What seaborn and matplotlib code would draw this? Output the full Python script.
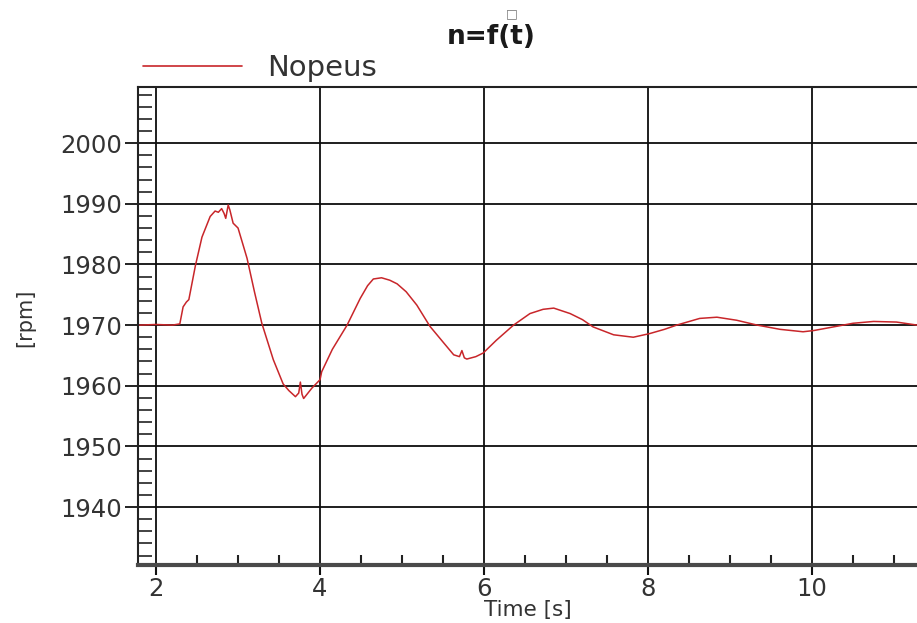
import matplotlib
matplotlib.use("Agg")
import matplotlib.pyplot as plt
from matplotlib.ticker import MultipleLocator
import seaborn as sns
import pandas as pd

# Speed response of the drive after a load step
time_s = [1.80, 2.00, 2.20, 2.29, 2.33, 2.37, 2.40, 2.48, 2.56, 2.66,
          2.72, 2.76, 2.80, 2.83, 2.85, 2.88, 2.90, 2.94, 3.00, 3.11,
          3.20, 3.29, 3.43, 3.55, 3.62, 3.70, 3.74, 3.76, 3.78, 3.80,
          3.90, 4.00, 4.02, 4.15, 4.33, 4.49, 4.58, 4.65, 4.75, 4.85,
          4.94, 5.05, 5.18, 5.34, 5.50, 5.63, 5.70, 5.73, 5.76, 5.79,
          5.90, 5.99, 6.15, 6.36, 6.56, 6.72, 6.85, 7.05, 7.20, 7.33,
          7.58, 7.82, 8.02, 8.20, 8.35, 8.63, 8.84, 9.08, 9.33, 9.61,
          9.89, 10.02, 10.26, 10.50, 10.75, 11.03, 11.28]
speed_rpm = [1970.0, 1970.1, 1970.0, 1970.2, 1973.0, 1973.8, 1974.2, 1979.8, 1984.5, 1987.9,
             1988.8, 1988.6, 1989.2, 1988.4, 1987.6, 1989.8, 1989.0, 1986.8, 1986.0, 1981.0,
             1975.5, 1970.3, 1964.3, 1960.3, 1959.2, 1958.2, 1958.8, 1960.6, 1958.6, 1957.9,
             1959.6, 1961.0, 1962.3, 1966.0, 1970.0, 1974.4, 1976.5, 1977.6, 1977.8, 1977.4,
             1976.8, 1975.5, 1973.3, 1969.8, 1967.2, 1965.1, 1964.8, 1965.8, 1964.6, 1964.4,
             1964.8, 1965.4, 1967.5, 1970.0, 1971.9, 1972.6, 1972.8, 1971.9, 1970.9, 1969.7,
             1968.4, 1968.0, 1968.6, 1969.3, 1970.0, 1971.1, 1971.3, 1970.8, 1970.0, 1969.3,
             1968.9, 1969.1, 1969.7, 1970.3, 1970.6, 1970.5, 1970.0]
series_name = "Nopeus"
y_ticks = [1940, 1950, 1960, 1970, 1980, 1990, 2000]
x_ticks = [2, 4, 6, 8, 10]

sns.set_theme(style="white")
plt.rcParams["font.family"] = ["DejaVu Sans"]

df = pd.DataFrame({"t": time_s, "n": speed_rpm, "s": series_name})

W, H = 917, 623
fig = plt.figure(figsize=(W / 100, H / 100), dpi=100)
fig.patch.set_facecolor("white")
ax = fig.add_axes([138 / W, (H - 565) / H, (W - 138) / W, (565 - 87) / H])

sns.lineplot(data=df, x="t", y="n", hue="s", palette=["#c8262a"],
             linewidth=1.1, ax=ax, legend=False)

ax.set_xlim(1.78, 11.28)
ax.set_ylim(1930.45, 2009.25)

ax.set_xticks(x_ticks)
ax.set_yticks(y_ticks)
ax.xaxis.set_minor_locator(MultipleLocator(0.5))
ax.yaxis.set_minor_locator(MultipleLocator(2))

ax.grid(True, which="major", color="#0d0d0d", linewidth=1.3)
ax.set_axisbelow(True)

ax.tick_params(axis="y", which="major", direction="out", length=9.5, width=1.3,
               color="#111111", labelsize=17.5, labelcolor="#333333", pad=2, left=True)
ax.tick_params(axis="y", which="minor", direction="in", length=10, width=1.2,
               color="#222222", left=True)
ax.tick_params(axis="x", which="major", direction="out", length=7, width=1.5,
               color="#111111", labelsize=17.5, labelcolor="#333333", pad=2, bottom=True)
ax.tick_params(axis="x", which="minor", direction="in", length=7, width=1.5,
               color="#222222", bottom=True)

for side in ["left", "top"]:
    ax.spines[side].set_visible(True)
    ax.spines[side].set_color("#222222")
    ax.spines[side].set_linewidth(1.5)
ax.spines["bottom"].set_color("#4a4a4a")
ax.spines["bottom"].set_linewidth(3.0)
ax.spines["right"].set_visible(False)

ax.set_xlabel("Time [s]", fontsize=15.5, color="#333333")
ax.set_ylabel("[rpm]", fontsize=15, color="#333333")
ax.xaxis.set_label_coords((528 - 138) / (W - 138), -(600 - 565) / (565 - 87))
ax.yaxis.set_label_coords(-(138 - 35) / (W - 138), (565 - 318) / (565 - 87))

# Title and series key above the plot
fig.text(491 / W, 1 - 37 / H, "n=f(t)", ha="center", va="center",
         fontsize=19, fontweight="bold", color="#1a1a1a")
fig.text(512 / W, 1 - 14 / H, "\u25a1", ha="center", va="center",
         fontsize=9, color="#777777")
handle = plt.Line2D([], [], color="#c8262a", linewidth=1.2)
fig.legend([handle], [series_name], loc="center left",
           bbox_to_anchor=(143 / W, 1 - 68 / H), frameon=False,
           fontsize=21, handlelength=3.4, handletextpad=0.85,
           borderpad=0, borderaxespad=0, labelcolor="#333333")

fig.savefig("out.png", dpi=100, facecolor="white")
